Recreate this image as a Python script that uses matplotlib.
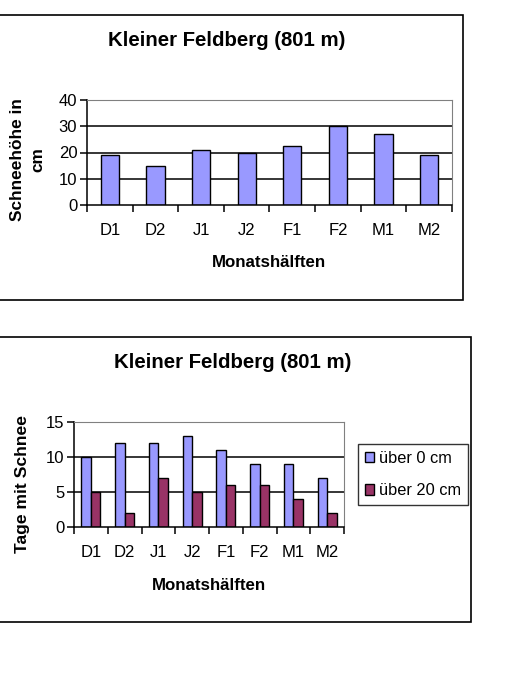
import numpy as np
import matplotlib
matplotlib.use("Agg")
import matplotlib.pyplot as plt
from matplotlib.patches import Rectangle

plt.rcParams["font.family"] = ["Liberation Sans", "DejaVu Sans"]

W, H = 510, 700

categories = ["D1", "D2", "J1", "J2", "F1", "F2", "M1", "M2"]
schneehoehe = [19, 15, 21, 20, 22.5, 30, 27, 19]
tage_ueber_0 = [10, 12, 12, 13, 11, 9, 9, 7]
tage_ueber_20 = [5, 2, 7, 5, 6, 6, 4, 2]

BLUE = "#9999ff"
RED = "#993366"


def px_axes(fig, left, top, right, bottom):
    return fig.add_axes([left / W, 1 - bottom / H, (right - left) / W, (bottom - top) / H])


def frame(fig, left, top, right, bottom):
    fig.patches.append(Rectangle((left / W, 1 - bottom / H), (right - left) / W,
                                 (bottom - top) / H, transform=fig.transFigure,
                                 fill=False, edgecolor="black", linewidth=1.2))


def style_axes(ax, ymax, step):
    n = len(categories)
    ax.set_xlim(-0.5, n - 0.5)
    ax.set_ylim(0, ymax)
    ax.set_yticks(np.arange(0, ymax + 1, step))
    for y in np.arange(step, ymax, step):
        ax.axhline(y, color="black", linewidth=1.1, zorder=1)
    ax.spines["top"].set_color("#808080")
    ax.spines["top"].set_linestyle((0, (1, 1)))
    ax.spines["right"].set_color("#808080")
    ax.spines["right"].set_linewidth(0.8)
    ax.spines["top"].set_linewidth(0.8)
    ax.spines["left"].set_linewidth(1.1)
    ax.spines["bottom"].set_linewidth(1.1)
    ax.set_xticks(np.arange(n))
    ax.set_xticklabels(categories, fontsize=12)
    ax.set_xticks(np.arange(-0.5, n, 1), minor=True)
    ax.tick_params(axis="x", which="major", length=0, pad=13)
    ax.tick_params(axis="x", which="minor", length=5, width=1.1, direction="out")
    ax.tick_params(axis="y", length=5, width=1.1, direction="out", labelsize=12, pad=2)


fig = plt.figure(figsize=(W / 100, H / 100), dpi=100)

# ---- top chart ----
frame(fig, -2, 15, 463, 300)
ax1 = px_axes(fig, 87, 100, 452, 205)
x = np.arange(len(categories))
ax1.bar(x, schneehoehe, width=0.4, color=BLUE, edgecolor="black", linewidth=1.0, zorder=2)
style_axes(ax1, 40, 10)
fig.text(227 / W, 1 - 40 / H, "Kleiner Feldberg (801 m)", ha="center", va="center",
         fontsize=14.7, fontweight="bold")
fig.text(269 / W, 1 - 263 / H, "Monatshälften", ha="center", va="center",
         fontsize=12.2, fontweight="bold")
fig.text(28 / W, 1 - 160 / H, "Schneehöhe in\ncm", ha="center", va="center",
         rotation=90, fontsize=12.4, fontweight="bold", linespacing=1.45)

# ---- bottom chart ----
frame(fig, -2, 337, 471, 622)
ax2 = px_axes(fig, 74, 422, 344, 527)
bw = 0.28
ax2.bar(x - bw / 2, tage_ueber_0, width=bw, color=BLUE, edgecolor="black",
        linewidth=1.0, zorder=2, label="über 0 cm")
ax2.bar(x + bw / 2, tage_ueber_20, width=bw, color=RED, edgecolor="black",
        linewidth=1.0, zorder=2, label="über 20 cm")
style_axes(ax2, 15, 5)
fig.text(233 / W, 1 - 362 / H, "Kleiner Feldberg (801 m)", ha="center", va="center",
         fontsize=14.7, fontweight="bold")
fig.text(209 / W, 1 - 585 / H, "Monatshälften", ha="center", va="center",
         fontsize=12.2, fontweight="bold")
fig.text(23 / W, 1 - 484 / H, "Tage mit Schnee", ha="center", va="center",
         rotation=90, fontsize=12.6, fontweight="bold")

leg = ax2.legend(loc="center left", bbox_to_anchor=((358 - 74) / 270, 0.5),
                 frameon=True, fancybox=False, edgecolor="black", fontsize=11.8,
                 handlelength=0.6, handleheight=0.6, handletextpad=0.3,
                 labelspacing=1.05, borderpad=0.4, borderaxespad=0)
leg.get_frame().set_linewidth(1.0)

fig.savefig("out.png", dpi=100)
